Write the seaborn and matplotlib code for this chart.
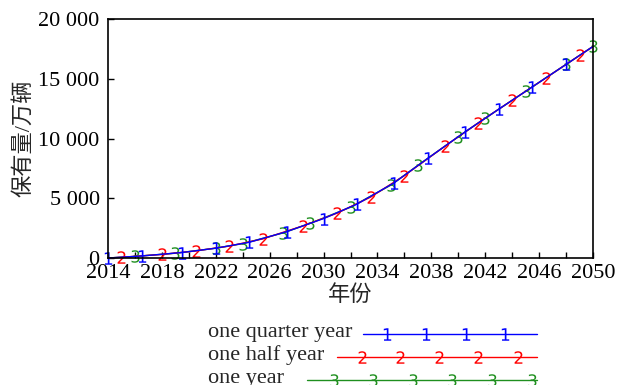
import matplotlib
matplotlib.use("Agg")
import matplotlib.pyplot as plt
import seaborn as sns

# Vehicle stock (10k vehicles) simulated with three time steps
quarter_years = [2014, 2016.5, 2019.5, 2022, 2024.5, 2027.25, 2030, 2032.5,
                 2035.25, 2037.75, 2040.5, 2043, 2045.5, 2048, 2050]
quarter_stock = [0, 170, 460, 820, 1320, 2200, 3300, 4520,
                 6300, 8350, 10550, 12450, 14320, 16200, 17700]

half_years = [2014, 2015, 2018, 2020.5, 2023, 2025.5, 2028.5, 2031, 2033.5,
              2036, 2039, 2041.5, 2044, 2046.5, 2049, 2050]
half_stock = [0, 60, 300, 590, 1000, 1600, 2700, 3750, 5100,
              6900, 9350, 11320, 13200, 15070, 16950, 17700]

year_years = [2014, 2016, 2019, 2022, 2024, 2027, 2029, 2032, 2035,
              2037, 2040, 2042, 2045, 2048, 2050]
year_stock = [0, 130, 400, 820, 1200, 2100, 2900, 4250, 6100,
              7750, 10150, 11700, 13950, 16200, 17700]

series_labels = ["one quarter year", "one half year", "one year"]
series_digits = ["1", "2", "3"]
series_colors = ["#0000ff", "#ff0000", "#1f8f1f"]

x_major = list(range(2014, 2051, 4))
x_minor = list(range(2016, 2050, 4))
y_major = [0, 5000, 10000, 15000, 20000]
y_labels = ["0", "5 000", "10 000", "15 000", "20 000"]

sns.set_theme(style="white")
plt.rcParams["font.family"] = ["Liberation Serif", "Noto Sans CJK SC"]
plt.rcParams["mathtext.fontset"] = "dejavusans"
plt.rcParams["mathtext.default"] = "rm"
plt.rcParams["axes.unicode_minus"] = False

fig = plt.figure(figsize=(6.17, 3.85), dpi=100)
ax = fig.add_axes([108 / 617, 1 - 258 / 385, (593 - 108) / 617, (258 - 19) / 385])

data = [(quarter_years, quarter_stock), (half_years, half_stock), (year_years, year_stock)]
# draw yearly first so the quarter-year curve sits on top
for idx in [2, 1, 0]:
    xs, ys = data[idx]
    n = len(xs)
    if idx == 0:
        marks = list(range(0, n - 1))
    elif idx == 1:
        marks = list(range(1, n - 1))
    else:
        marks = list(range(1, n))
    sns.lineplot(x=xs, y=ys, ax=ax, color=series_colors[idx], lw=1.0,
                 marker=f"${series_digits[idx]}$", markersize=9,
                 markeredgewidth=0, markevery=marks, sort=False,
                 estimator=None, legend=False, clip_on=False)

ax.set_xlim(2014, 2050)
ax.set_ylim(0, 20000)
ax.set_xticks(x_major)
ax.set_xticks(x_minor, minor=True)
ax.set_yticks(y_major)
ax.set_yticklabels(y_labels)
ax.tick_params(axis="both", which="both", direction="in", length=4, width=1,
               colors="black", labelsize=16, pad=4)
ax.tick_params(top=False, right=False, which="both")
ax.tick_params(axis="x", which="both", bottom=True)
ax.tick_params(axis="y", which="both", left=True, pad=6)
for s in ax.spines.values():
    s.set_color("black")
    s.set_linewidth(1.2)
ax.set_xlabel("年份", fontsize=16, labelpad=2)
ax.set_ylabel("保有量/万辆", fontsize=16, labelpad=3)

# legend drawn below the axes, in pixel layout coordinates
lax = fig.add_axes([0, 0, 1, 1])
lax.set_xlim(0, 617)
lax.set_ylim(385, 0)
lax.axis("off")
rows = [
    (337, 363, [386.7, 426, 465.7, 505]),
    (360, 337, [361.7, 400, 439, 478, 518]),
    (383, 307, [334, 373, 412.7, 452, 492, 531.7]),
]
for i, (base, x0, mx) in enumerate(rows):
    lax.text(208, base, series_labels[i], fontsize=16, va="baseline", ha="left")
    yline = base - 3.5
    xs = [x0] + mx + [537]
    lax.plot(xs, [yline] * len(xs), color=series_colors[i], lw=1.0,
             marker=f"${series_digits[i]}$", markersize=9, markeredgewidth=0,
             markevery=list(range(1, len(xs) - 1)), clip_on=False)

fig.savefig("out.png", dpi=100)
